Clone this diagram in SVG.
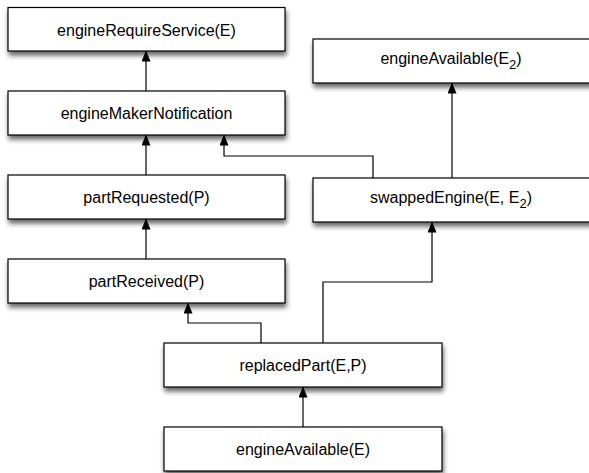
<svg xmlns="http://www.w3.org/2000/svg" width="589" height="473" viewBox="0 0 589 473">
<defs>
<filter id="sh" x="-10%" y="-20%" width="130%" height="160%">
<feGaussianBlur in="SourceAlpha" stdDeviation="2.5"/>
<feOffset dx="1" dy="4" result="b"/>
<feComponentTransfer><feFuncA type="linear" slope="0.6"/></feComponentTransfer>
<feMerge><feMergeNode/><feMergeNode in="SourceGraphic"/></feMerge>
</filter>
<marker id="up" markerWidth="9" markerHeight="12" refX="4.5" refY="0.5" orient="0" markerUnits="userSpaceOnUse" viewBox="0 0 9 12">
<path d="M4.5,0 L9,11 L0,11 Z" fill="#000"/>
</marker>
</defs>
<style>
.box{fill:#fff;stroke:#000;stroke-width:1.2;filter:url(#sh)}
.lbl{font-family:"Liberation Sans",Arial,sans-serif;font-size:16px;fill:#000;text-anchor:middle}
.sub{font-size:13px}
.c{fill:none;stroke:#000;stroke-width:1.2;marker-end:url(#up)}
</style>
<rect width="589" height="473" fill="#fff"/>
<g id="connectors">
<path class="c" d="M146,91 V51"/>
<path class="c" d="M146,175 V135"/>
<path class="c" d="M146,259 V219"/>
<path class="c" d="M373,178 V156 H224 V135"/>
<path class="c" d="M452,178 V83"/>
<path class="c" d="M261,343 V323 H188 V303"/>
<path class="c" d="M323,343 V282 H432 V222"/>
<path class="c" d="M303,427 V387"/>
</g>
<g id="engineRequireService">
<rect class="box" x="8" y="7.5" width="277" height="43.5"/>
<text class="lbl" x="146.5" y="35.5">engineRequireService(E)</text>
</g>
<g id="engineMakerNotification">
<rect class="box" x="8" y="91" width="277" height="44"/>
<text class="lbl" x="146.5" y="118.5">engineMakerNotification</text>
</g>
<g id="partRequested">
<rect class="box" x="8" y="175" width="277" height="44"/>
<text class="lbl" x="146.5" y="202.5">partRequested(P)</text>
</g>
<g id="partReceived">
<rect class="box" x="8" y="259" width="277" height="44"/>
<text class="lbl" x="146.5" y="286.5">partReceived(P)</text>
</g>
<g id="engineAvailableE2">
<rect class="box" x="313" y="39" width="280" height="44"/>
<text class="lbl" x="451" y="64">engineAvailable(E<tspan class="sub" dy="5">2</tspan><tspan dy="-5">)</tspan></text>
</g>
<g id="swappedEngine">
<rect class="box" x="313" y="178" width="280" height="44"/>
<text class="lbl" x="451" y="203">swappedEngine(E, E<tspan class="sub" dy="5">2</tspan><tspan dy="-5">)</tspan></text>
</g>
<g id="replacedPart">
<rect class="box" x="164" y="343" width="278" height="44"/>
<text class="lbl" x="303" y="370.5">replacedPart(E,P)</text>
</g>
<g id="engineAvailableE">
<rect class="box" x="164" y="427" width="278" height="44"/>
<text class="lbl" x="303" y="454.5">engineAvailable(E)</text>
</g>
</svg>
